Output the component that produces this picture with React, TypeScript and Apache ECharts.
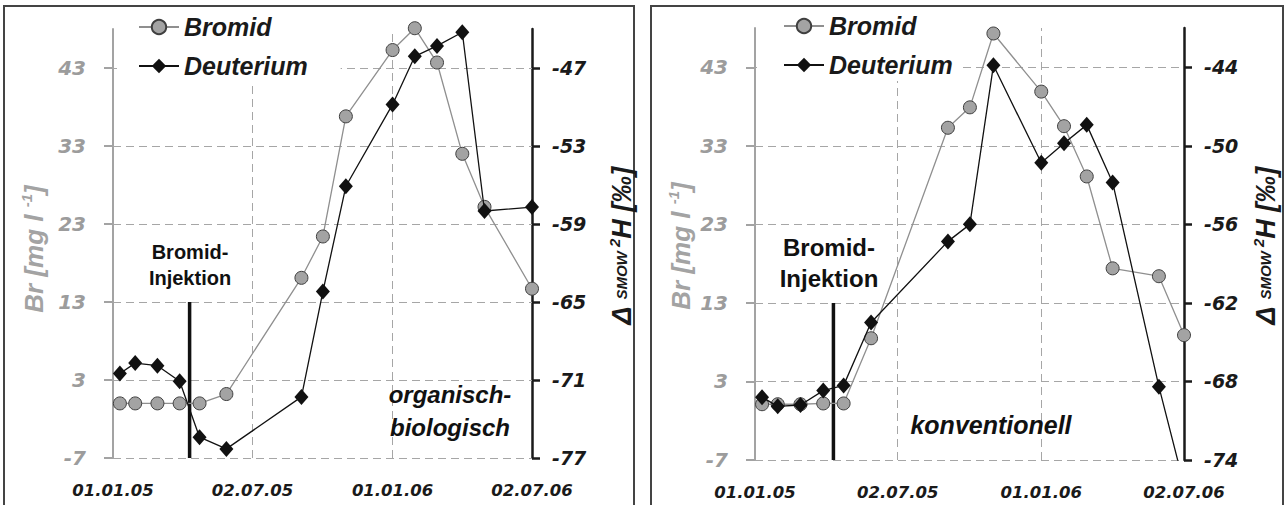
import React, { useEffect, useRef } from 'react';
import * as echarts from 'echarts';

// ---------- data ----------
const BASE_DATE = '2005-01-01';
const xTickDates = ['2005-01-01', '2005-07-02', '2006-01-01', '2006-07-02'];
const xTickLabels = ['01.01.05', '02.07.05', '01.01.06', '02.07.06'];

const brRange = [-7, 48];
const brTicks = [-7, 3, 13, 23, 33, 43];
const orgD2HRange = [-77, -44];
const orgD2HTicks = [-77, -71, -65, -59, -53, -47];
const konvD2HRange = [-74, -41];
const konvD2HTicks = [-74, -68, -62, -56, -50, -44];

const injectionDate = '2005-04-11';
const injectionRange = [13, -7];

const orgDates = ['2005-01-10', '2005-01-30', '2005-02-28', '2005-03-29', '2005-04-24', '2005-05-29', '2005-09-04', '2005-10-02', '2005-11-01', '2006-01-01', '2006-01-30', '2006-02-28', '2006-04-02', '2006-05-01', '2006-07-02'];
const orgBromid = [0, 0, 0, 0, 0, 1.2, 16.1, 21.4, 36.8, 45.3, 48.1, 43.7, 32.0, 25.2, 14.7];
const orgDeuterium = [-70.5, -69.7, -69.9, -71.1, -75.4, -76.3, -72.3, -64.2, -56.1, -49.8, -46.1, -45.3, -44.25, -58.0, -57.7];

const konvDates = ['2005-01-10', '2005-01-30', '2005-02-28', '2005-03-29', '2005-04-24', '2005-05-29', '2005-09-04', '2005-10-02', '2005-11-01', '2006-01-01', '2006-01-30', '2006-02-28', '2006-04-02', '2006-05-31', '2006-07-02'];
const konvBromid = [0.1, 0.1, 0.1, 0.2, 0.2, 8.5, 35.3, 37.9, 47.3, 39.9, 35.5, 29.1, 17.4, 16.4, 8.9];
const konvDeuterium = [-69.2, -69.9, -69.8, -68.7, -68.3, -63.5, -57.3, -56.0, -43.85, -51.3, -49.8, -48.4, -52.8, -68.4, -75.9];

// ---------- helpers ----------
const FONT = '"Liberation Sans", Arial, Helvetica, sans-serif';
const TICKFONT = '"DejaVu Sans", Verdana, sans-serif';
const GRAY = '#a3a3a3';
const DARK = '#1a1a1a';

const day = (s: string) =>
  (Date.parse(s + 'T00:00:00Z') - Date.parse(BASE_DATE + 'T00:00:00Z')) / 86400000;
const xTickDays = xTickDates.map(day);
const pairs = (dates: string[], vals: number[]) => dates.map((d, i) => [day(d), vals[i]]);

const panels = [
  {
    grid: { left: 113, top: 29, width: 419, height: 429 },
    dates: orgDates, br: orgBromid, d2h: orgDeuterium,
    d2hRange: orgD2HRange, d2hTicks: orgD2HTicks,
    legend: { left: 117, top: 8, padding: [6, 33, 3, 21] },
    clipD: false,
  },
  {
    grid: { left: 755, top: 28, width: 429, height: 432 },
    dates: konvDates, br: konvBromid, d2h: konvDeuterium,
    d2hRange: konvD2HRange, d2hTicks: konvD2HTicks,
    legend: { left: 757, top: 7, padding: [6, 6, 3, 26] },
    clipD: true,
  },
];

const labelFont = { fontFamily: FONT, fontWeight: 'bold' as const, fontStyle: 'italic' as const };
const tickFont = { fontFamily: TICKFONT, fontWeight: 'bold' as const, fontStyle: 'italic' as const };

function buildOption() {
  const grid: any[] = [];
  const xAxis: any[] = [];
  const yAxis: any[] = [];
  const series: any[] = [];
  const legend: any[] = [];

  panels.forEach((p, i) => {
    grid.push({ ...p.grid, containLabel: false, outerBoundsMode: 'none' });
    xAxis.push({
      type: 'value', gridIndex: i, min: xTickDays[0], max: xTickDays[xTickDays.length - 1],
      axisLine: { show: false, onZero: false }, axisTick: { show: false }, splitLine: { show: false },
      axisLabel: {
        customValues: xTickDays,
        formatter: (v: number) => xTickLabels[xTickDays.indexOf(v)] ?? '',
        color: DARK, fontSize: 16.5, margin: 24, ...tickFont,
      },
    });
    yAxis.push({
      type: 'value', gridIndex: i, position: 'left', min: brRange[0], max: brRange[1],
      axisLine: { show: true, onZero: false, lineStyle: { color: GRAY, width: 2 } },
      axisTick: { show: true, customValues: brTicks, length: 9, lineStyle: { color: GRAY, width: 2 } },
      axisLabel: { customValues: brTicks, color: '#9c9c9c', fontSize: 20, margin: 27, ...tickFont },
      splitLine: { show: false },
    });
    yAxis.push({
      type: 'value', gridIndex: i, position: 'right', min: p.d2hRange[0], max: p.d2hRange[1],
      axisLine: { show: true, onZero: false, lineStyle: { color: DARK, width: 2.5 } },
      axisTick: { show: true, customValues: p.d2hTicks, length: 8, lineStyle: { color: DARK, width: 2.5 } },
      axisLabel: { customValues: p.d2hTicks, color: DARK, fontSize: 19, margin: 20, ...tickFont },
      splitLine: { show: false },
    });

    series.push({
      name: 'Bromid', type: 'line', xAxisIndex: i, yAxisIndex: 2 * i,
      data: pairs(p.dates, p.br),
      symbol: 'circle', symbolSize: 13, showSymbol: true,
      itemStyle: { color: '#a3a3a3', borderColor: '#3f3f3f', borderWidth: 1 },
      lineStyle: { color: '#8f8f8f', width: 1.3 },
      clip: false, z: 3, silent: true,
      markLine: {
        silent: true, z: 1, symbol: 'none', animation: false,
        label: { show: false },
        lineStyle: { type: [8, 5], color: '#a6a6a6', width: 1 },
        emphasis: { disabled: true },
        data: [
          ...brTicks.map((v) => ({ yAxis: v })),
          ...xTickDays.slice(1, xTickDays.length - 1).map((d) => ({ xAxis: d })),
        ],
      },
    });
    series.push({
      name: 'Deuterium', type: 'line', xAxisIndex: i, yAxisIndex: 2 * i + 1,
      data: pairs(p.dates, p.d2h),
      symbol: 'diamond', symbolSize: [14, 16], showSymbol: true,
      itemStyle: { color: '#111111' },
      lineStyle: { color: '#111111', width: 1.3 },
      clip: p.clipD, z: 4, silent: true,
    });
    series.push({
      name: 'Injektion', type: 'line', xAxisIndex: i, yAxisIndex: 2 * i,
      data: injectionRange.map((v) => [day(injectionDate), v]),
      symbol: 'none', lineStyle: { color: '#111111', width: 3.5 },
      z: 2, silent: true,
    });

    legend.push({
      show: true, orient: 'vertical', left: p.legend.left, top: p.legend.top,
      padding: p.legend.padding, data: ['Bromid', 'Deuterium'],
      itemWidth: 40, itemHeight: 18, itemGap: 13, selectedMode: false,
      backgroundColor: '#ffffff',
      textStyle: { color: DARK, fontSize: 25, lineHeight: 26, ...labelFont },
    });
  });

  const txt = (x: number, y: number, text: string, size: number, lh: number, italic: boolean) => ({
    type: 'text', x, y, z: 10, silent: true,
    style: {
      text, fill: '#111111', fontSize: size, lineHeight: lh, fontFamily: FONT,
      fontWeight: 'bold', fontStyle: italic ? 'italic' : 'normal',
      align: 'center', verticalAlign: 'middle',
    },
  });

  const brTitle = (x: number, y: number) => ({
    type: 'text', x, y, rotation: Math.PI / 2, z: 10, silent: true,
    style: {
      text: '{m|Br [mg l }{s|-1}{m|]}',
      align: 'center', verticalAlign: 'middle', fill: GRAY,
      rich: {
        m: { fontSize: 26, lineHeight: 28, fontFamily: FONT, fontWeight: 'bold', fontStyle: 'italic', fill: GRAY, verticalAlign: 'bottom' },
        s: { fontSize: 15, lineHeight: 15, fontFamily: FONT, fontWeight: 'bold', fontStyle: 'italic', fill: GRAY, verticalAlign: 'top' },
      },
    },
  });
  const d2hTitle = (x: number, y: number) => ({
    type: 'text', x, y, rotation: Math.PI / 2, z: 10, silent: true,
    style: {
      text: '{m|Δ }{c|SMOW }{s|2}{m|H [‰]}',
      align: 'center', verticalAlign: 'middle', fill: DARK,
      rich: {
        m: { fontSize: 27, lineHeight: 28, fontFamily: FONT, fontWeight: 'bold', fontStyle: 'italic', fill: DARK, verticalAlign: 'bottom' },
        c: { fontSize: 15, lineHeight: 15, fontFamily: FONT, fontWeight: 'bold', fontStyle: 'italic', fill: DARK, verticalAlign: 'middle' },
        s: { fontSize: 15, lineHeight: 15, fontFamily: FONT, fontWeight: 'bold', fontStyle: 'italic', fill: DARK, verticalAlign: 'top' },
      },
    },
  });

  const graphic = [
    { type: 'rect', z: 0, silent: true, shape: { x: 4, y: 6, width: 630, height: 560 }, style: { fill: 'none', stroke: '#444444', lineWidth: 2 } },
    { type: 'rect', z: 0, silent: true, shape: { x: 651, y: 6, width: 632, height: 560 }, style: { fill: 'none', stroke: '#444444', lineWidth: 2 } },
    brTitle(33, 249),
    d2hTitle(621, 246),
    brTitle(680, 246),
    d2hTitle(1265, 246),
    txt(190, 265, 'Bromid-\nInjektion', 20, 26, false),
    txt(829, 263, 'Bromid-\nInjektion', 24, 31, false),
    txt(450, 411, 'organisch-\nbiologisch', 24, 33, true),
    txt(991, 425, 'konventionell', 25, 30, true),
  ];

  return {
    animation: false,
    backgroundColor: '#ffffff',
    grid, xAxis, yAxis, series, legend, graphic,
  };
}

export default function App() {
  const ref = useRef<HTMLDivElement>(null);
  useEffect(() => {
    const chart = echarts.init(ref.current!, null, { renderer: 'svg' });
    chart.setOption(buildOption() as any);
    return () => chart.dispose();
  }, []);
  return (
    <div
      ref={ref}
      style={{ position: 'absolute', left: 0, top: 0, width: 1285, height: 505, background: '#fff' }}
    />
  );
}
